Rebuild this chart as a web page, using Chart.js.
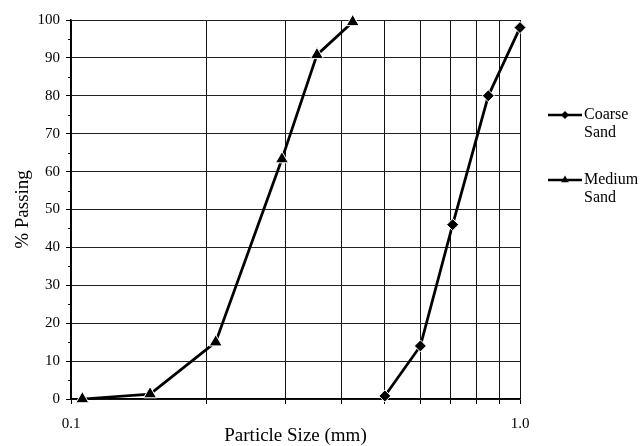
<!DOCTYPE html>
<html>
<head>
<meta charset="utf-8">
<script src="https://cdn.jsdelivr.net/npm/chart.js@4/dist/chart.umd.min.js"></script>
<style>
  html, body { margin: 0; padding: 0; background: #fff; }
  #wrap { width: 641px; height: 446px; }
</style>
</head>
<body>
<div id="wrap"><canvas id="grading" width="641" height="446"></canvas></div>
<script>
// Sieve analysis: particle size (mm) vs. percent passing
const seriesNames = ['Coarse Sand', 'Medium Sand'];

const coarseSize    = [0.5, 0.6, 0.708, 0.85, 1.0];
const coarsePassing = [0.8, 14, 46, 80, 98];

const mediumSize    = [0.106, 0.15, 0.21, 0.295, 0.353, 0.424];
const mediumPassing = [0, 1.3, 15, 63.3, 90.8, 99.5];

// Log-cycle grid lines along the size axis, and the two labelled ends
const sizeTicks = [0.1, 0.2, 0.3, 0.4, 0.5, 0.6, 0.7, 0.8, 0.9, 1.0];
const sizeTickLabels = { 0.1: '0.1', 1: '1.0' };

// Percent axis: labelled every 10, short marks between
const passingMinorTicks = [5, 15, 25, 35, 45, 55, 65, 75, 85, 95];

const FONT = "'Liberation Serif', 'Times New Roman', serif";
Chart.defaults.font.family = FONT;
Chart.defaults.color = '#000';

const toPoints = (xs, ys) => xs.map((x, i) => ({ x: x, y: ys[i] }));

// Short tick marks at the odd fives on the percent axis
const minorTicks = {
  id: 'minorTicks',
  afterDraw(chart) {
    const y = chart.scales.y;
    const ctx = chart.ctx;
    ctx.save();
    ctx.strokeStyle = '#000';
    ctx.lineWidth = 1;
    passingMinorTicks.forEach(v => {
      const py = Math.round(y.getPixelForValue(v)) + 0.5;
      ctx.beginPath();
      ctx.moveTo(y.right - 3, py);
      ctx.lineTo(y.right, py);
      ctx.stroke();
    });
    ctx.restore();
  }
};

// Legend at the right with two-line entries
const sideLegend = {
  id: 'sideLegend',
  afterDraw(chart) {
    const ctx = chart.ctx;
    const area = chart.chartArea;
    const x0 = area.right + 28;
    const x1 = area.right + 62;
    const entryY = [area.top + 95, area.top + 160];
    ctx.save();
    chart.data.datasets.forEach((ds, i) => {
      const y = entryY[i];
      ctx.strokeStyle = '#000';
      ctx.lineWidth = 2.5;
      ctx.beginPath();
      ctx.moveTo(x0, y);
      ctx.lineTo(x1, y);
      ctx.stroke();
      ctx.fillStyle = '#000';
      ctx.strokeStyle = '#000';
      Chart.helpers.drawPoint(ctx, {
        pointStyle: ds.pointStyle,
        rotation: 0,
        radius: ds.pointStyle === 'triangle' ? 4.5 : 4,
        borderWidth: 0
      }, (x0 + x1) / 2, y);
      ctx.font = '16px ' + FONT;
      ctx.textAlign = 'left';
      ctx.textBaseline = 'middle';
      ds.label.split(' ').forEach((word, k) => {
        ctx.fillText(word, x1 + 2, y + k * 18);
      });
    });
    ctx.restore();
  }
};

new Chart(document.getElementById('grading'), {
  type: 'line',
  data: {
    datasets: [
      {
        label: seriesNames[0],
        data: toPoints(coarseSize, coarsePassing),
        borderColor: '#000',
        borderWidth: 2.75,
        pointStyle: 'rectRot',
        pointRadius: 6,
        pointBackgroundColor: '#000',
        pointBorderColor: '#fff',
        pointBorderWidth: 1,
        tension: 0,
        clip: false
      },
      {
        label: seriesNames[1],
        data: toPoints(mediumSize, mediumPassing),
        borderColor: '#000',
        borderWidth: 2.75,
        pointStyle: 'triangle',
        pointRadius: 7.5,
        pointBackgroundColor: '#000',
        pointBorderColor: '#fff',
        pointBorderWidth: 1,
        tension: 0,
        clip: false
      }
    ]
  },
  options: {
    responsive: false,
    animation: false,
    devicePixelRatio: 1,
    layout: { padding: { left: 12, right: 121, top: 20, bottom: 0 } },
    plugins: {
      legend: { display: false },
      tooltip: { enabled: false }
    },
    scales: {
      x: {
        type: 'logarithmic',
        min: 0.1,
        max: 1.0,
        afterBuildTicks(scale) {
          scale.ticks = sizeTicks.map(v => ({ value: v }));
        },
        afterFit(scale) {
          scale.height = 47;
        },
        ticks: {
          autoSkip: false,
          maxRotation: 0,
          padding: 11,
          font: { size: 15 },
          color: '#000',
          callback: (v) => sizeTickLabels[v] || ''
        },
        grid: {
          color: '#111',
          lineWidth: 1,
          drawTicks: true,
          tickLength: 5,
          tickColor: '#000'
        },
        border: { color: '#000', width: 1.5 },
        title: {
          display: true,
          text: 'Particle Size (mm)',
          font: { size: 19, lineHeight: 1 },
          color: '#000',
          padding: 0
        }
      },
      y: {
        type: 'linear',
        min: 0,
        max: 100,
        afterFit(scale) {
          scale.width = 59;
        },
        ticks: {
          stepSize: 10,
          padding: 6,
          font: { size: 15 },
          color: '#000'
        },
        grid: {
          color: '#222',
          lineWidth: 1,
          drawTicks: true,
          tickLength: 5,
          tickColor: '#000'
        },
        border: { color: '#000', width: 1.5 },
        title: {
          display: true,
          text: '% Passing',
          font: { size: 19 },
          color: '#000',
          padding: 0
        }
      }
    }
  },
  plugins: [minorTicks, sideLegend]
});
</script>
</body>
</html>
